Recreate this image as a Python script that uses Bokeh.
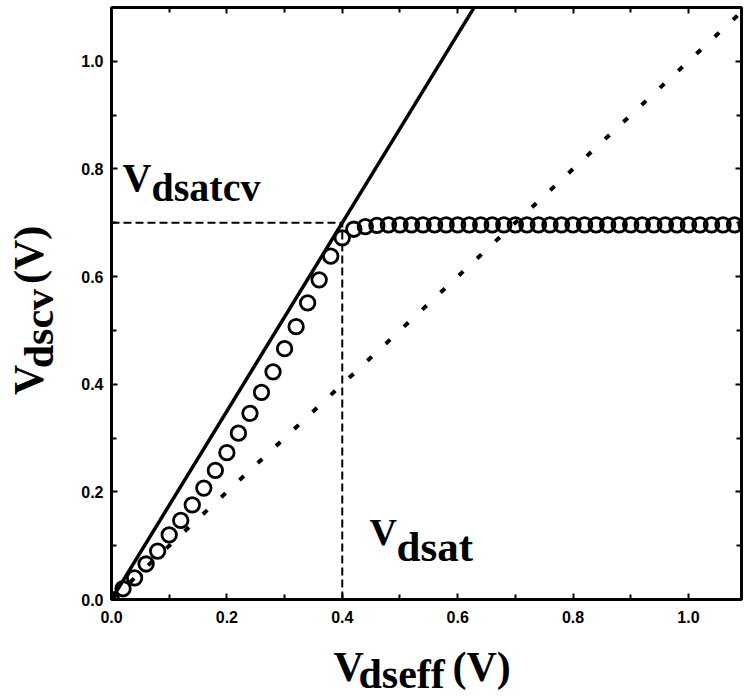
import math
from bokeh.plotting import figure
from bokeh.models import Range1d, Label, FixedTicker, LinearAxis
from bokeh.layouts import row, column
from bokeh.core.properties import value
from bokeh.embed import file_html
from bokeh.resources import INLINE

# ---- data ----
vdseff = [0.00, 0.02, 0.04, 0.06, 0.08, 0.10, 0.12, 0.14, 0.16, 0.18,
          0.20, 0.22, 0.24, 0.26, 0.28, 0.30, 0.32, 0.34, 0.36, 0.38,
          0.40, 0.42, 0.44, 0.46, 0.48, 0.50, 0.52, 0.54, 0.56, 0.58,
          0.60, 0.62, 0.64, 0.66, 0.68, 0.70, 0.72, 0.74, 0.76, 0.78,
          0.80, 0.82, 0.84, 0.86, 0.88, 0.90, 0.92, 0.94, 0.96, 0.98,
          1.00, 1.02, 1.04, 1.06, 1.08, 1.10]
vdscv = [0.000, 0.020, 0.040, 0.066, 0.090, 0.120, 0.147, 0.176, 0.207, 0.240,
         0.273, 0.309, 0.346, 0.385, 0.423, 0.466, 0.507, 0.551, 0.594, 0.638,
         0.672, 0.688, 0.693, 0.695, 0.696, 0.696, 0.696, 0.696, 0.696, 0.696,
         0.696, 0.696, 0.696, 0.696, 0.696, 0.696, 0.696, 0.696, 0.696, 0.696,
         0.696, 0.696, 0.696, 0.696, 0.696, 0.696, 0.696, 0.696, 0.696, 0.696,
         0.696, 0.696, 0.696, 0.696, 0.696, 0.696]

linear_x = [0.0, 0.63]          # Vdscv = 1.75 * Vdseff
linear_y = [0.0, 1.1025]
unity_x = [0.0, 1.1]            # Vdscv = Vdseff
unity_y = [0.0, 1.1]
vdsat = 0.4
vdsatcv = 0.7

x_ticks = [0.0, 0.2, 0.4, 0.6, 0.8, 1.0]
y_ticks = [0.0, 0.2, 0.4, 0.6, 0.8, 1.0]
minor_ticks = [0.1, 0.3, 0.5, 0.7, 0.9]

x_title = ["V", "dseff", "(V)"]
y_title = ["V", "dscv", "(V)"]

FONT = "Liberation Serif"
BASE_FIX = 14     # observed offset of the alphabetic baseline in the renderer
ROT_FIX_X = 15
ROT_FIX_Y = 27

# ---- geometry (page pixels) ----
W, H = 744, 697
YT_W = 62                 # width of the strip holding the y title
MAIN_H = 640              # height of main plot (incl. tick labels)
FL, FR, FT, FB = 111, 741, 7, 599

# ---- main plot ----
p = figure(width=W - YT_W, height=MAIN_H, output_backend="svg", toolbar_location=None,
           x_range=Range1d(0, 1.092), y_range=Range1d(0, 1.1),
           min_border_left=FL - YT_W, min_border_right=W - FR, min_border_top=FT,
           min_border_bottom=MAIN_H - FB)
p.xgrid.visible = False
p.ygrid.visible = False
p.outline_line_color = "black"
p.outline_line_width = 3
p.background_fill_color = "white"
p.border_fill_color = "white"

def style_ticks(ax, ticks):
    ax.ticker = FixedTicker(ticks=ticks, minor_ticks=minor_ticks)
    ax.major_tick_in = 6
    ax.major_tick_out = 0
    ax.minor_tick_in = 5
    ax.minor_tick_out = 0
    ax.major_tick_line_width = 2
    ax.minor_tick_line_width = 2

for ax, ticks, stand in ((p.xaxis[0], x_ticks, 11), (p.yaxis[0], y_ticks, 8)):
    style_ticks(ax, ticks)
    ax.axis_line_width = 3
    ax.axis_line_color = "black"
    ax.major_label_text_font = "Liberation Sans"
    ax.major_label_text_font_style = "bold"
    ax.major_label_text_font_size = "16px"
    ax.major_label_text_color = "black"
    ax.major_label_standoff = stand
p.xaxis.major_label_overrides = {t: f"{t:.1f}" for t in x_ticks}
p.yaxis.major_label_overrides = {t: f"{t:.1f}" for t in y_ticks}

# mirrored ticks on top and right (no labels)
for loc, ticks in (("above", x_ticks), ("right", y_ticks)):
    ax = LinearAxis(axis_line_color=None, major_label_standoff=0,
                    major_label_text_font_size="1px",
                    major_label_overrides={t: "" for t in ticks})
    style_ticks(ax, ticks)
    p.add_layout(ax, loc)

# reference lines
p.line([vdsat, vdsat], [0, vdsatcv], line_color="black", line_width=2, line_dash="8 4")
p.line([0, vdsat], [vdsatcv, vdsatcv], line_color="black", line_width=2, line_dash="8 4")
p.line(unity_x, unity_y, line_color="black", line_width=4, line_dash="6 19")
p.line(linear_x, linear_y, line_color="black", line_width=3.5)

# simulated points
p.scatter(vdseff, vdscv, marker="circle", size=14.5, fill_color=None,
          line_color="black", line_width=2.8)

# in-plot annotations (page pixel -> data coordinates)
SX = (FR - FL) / 1.092
SY = (FB - FT) / 1.1

def lab(text, px, py, size):
    py = py - BASE_FIX
    p.add_layout(Label(x=(px - FL) / SX, y=(FB - py) / SY, text=text, text_font=FONT,
                       text_font_style="bold", text_font_size=f"{size}px",
                       text_color="black", text_align="left",
                       text_baseline="alphabetic"))

lab("V", 122, 191, 40)
lab("dsatcv", 151, 201, 40)
lab("V", 369, 545, 38)
lab("dsat", 396, 560, 43)

# ---- y title strip ----
fy = figure(width=YT_W, height=MAIN_H, output_backend="svg", toolbar_location=None,
            x_range=Range1d(0, YT_W), y_range=Range1d(0, MAIN_H),
            x_axis_location=None, y_axis_location=None,
            min_border=0, outline_line_color=None)
fy.xgrid.visible = False
fy.ygrid.visible = False
ypx = [43 - ROT_FIX_X, 53 - ROT_FIX_X, 43 - ROT_FIX_X]
ypy = [392 + ROT_FIX_Y, 363 + ROT_FIX_Y, 272 + ROT_FIX_Y]
fy.text(x=ypx, y=[MAIN_H - v for v in ypy], text=y_title,
        angle=math.pi / 2, text_font=value(FONT), text_font_style="bold",
        text_font_size=value("42px"), text_color="black",
        text_align="left", text_baseline="alphabetic")

# ---- x title strip ----
XT_H = H - MAIN_H
fx = figure(width=W, height=XT_H, output_backend="svg", toolbar_location=None,
            x_range=Range1d(0, W), y_range=Range1d(0, XT_H),
            x_axis_location=None, y_axis_location=None,
            min_border=0, outline_line_color=None)
fx.xgrid.visible = False
fx.ygrid.visible = False
xpy = [680 - BASE_FIX, 687 - BASE_FIX, 680 - BASE_FIX]
fx.text(x=[333, 358, 452], y=[H - v for v in xpy], text=x_title,
        text_font=value(FONT), text_font_style="bold",
        text_font_size=value("42px"), text_color="black",
        text_align="left", text_baseline="alphabetic")

layout = column(row(fy, p, spacing=0), fx, spacing=0)

open("out.html", "w").write(file_html(layout, INLINE))
